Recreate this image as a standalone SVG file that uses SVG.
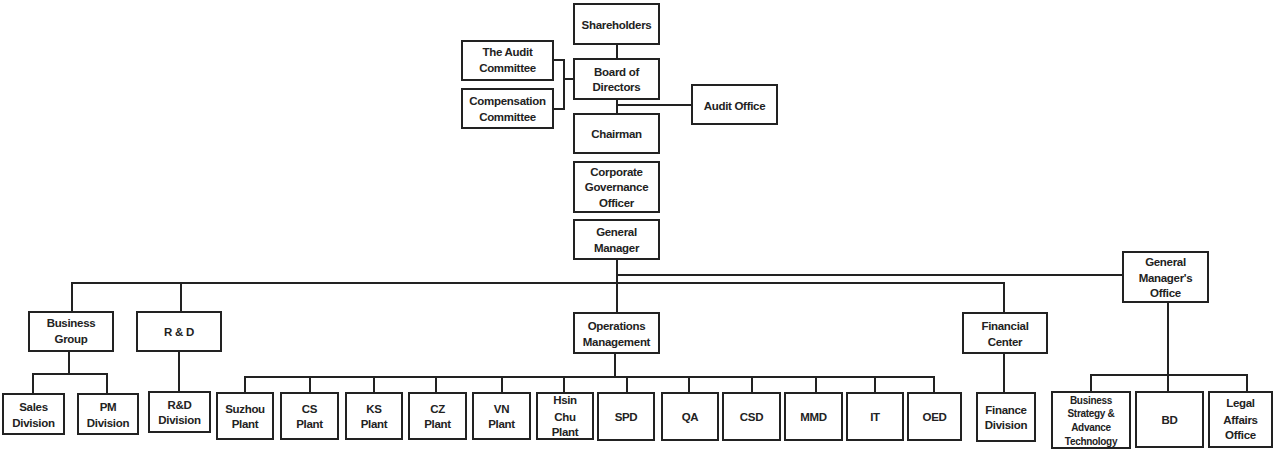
<svg xmlns="http://www.w3.org/2000/svg" width="1274" height="450" viewBox="0 0 1274 450">
<style>
rect{fill:#fff;stroke:#222;stroke-width:2}
text{font-family:"Liberation Sans",Arial,sans-serif;font-weight:bold;font-size:11.5px;fill:#222;text-anchor:middle;dominant-baseline:central;letter-spacing:-0.3px}
.s{font-size:10px}
#connectors path{fill:none;stroke:#222;stroke-width:2}
</style>
<rect x="0" y="0" width="1274" height="450" style="fill:#fff;stroke:none"/>
<g id="connectors">
<path d="M617 44V59M553 60H564V109H553M564 79H574M617 99V114M617 105H692"/>
<path d="M617 259V313M617 275H1123M72 312V283H1004V313M181 283V312"/>
<path d="M69 351V374M33 394V374H107V394M179 351V392"/>
<path d="M615 353V377M245 393V377H935M310 377V393M374 377V393M436 377V393M502 377V393M564 377V393M627 377V393M689 377V393M752 377V393M816 377V393M875 377V393M934 377V393"/>
<path d="M1004 353V393M1168 302V392M1091 392V375H1247V392"/>
</g>
<g id="shareholders"><rect x="574" y="4" width="85" height="40"/><text x="616.5" y="25">Shareholders</text></g>
<g id="audit-committee"><rect x="462" y="41" width="91" height="39"/><text x="507.5" y="52">The Audit</text><text x="507.5" y="68">Committee</text></g>
<g id="board"><rect x="574" y="59" width="85" height="40"/><text x="616.5" y="72">Board of</text><text x="616.5" y="87">Directors</text></g>
<g id="compensation"><rect x="462" y="89" width="91" height="39"/><text x="507.5" y="101">Compensation</text><text x="507.5" y="117">Committee</text></g>
<g id="audit-office"><rect x="692" y="85" width="85" height="39"/><text x="734.5" y="106">Audit Office</text></g>
<g id="chairman"><rect x="574" y="114" width="85" height="39"/><text x="616.5" y="134">Chairman</text></g>
<g id="cgo"><rect x="574" y="162" width="85" height="50"/><text x="616.5" y="172">Corporate</text><text x="616.5" y="187">Governance</text><text x="616.5" y="203">Officer</text></g>
<g id="gm"><rect x="574" y="220" width="85" height="39"/><text x="616.5" y="232">General</text><text x="616.5" y="248">Manager</text></g>
<g id="gmo"><rect x="1123" y="252" width="85" height="50"/><text x="1165.5" y="262">General</text><text x="1165.5" y="278">Manager's</text><text x="1165.5" y="293">Office</text></g>
<g id="business-group"><rect x="29" y="312" width="84" height="39"/><text x="71" y="323">Business</text><text x="71" y="339">Group</text></g>
<g id="rnd"><rect x="137" y="312" width="84" height="39"/><text x="179" y="332">R &amp; D</text></g>
<g id="operations"><rect x="574" y="313" width="85" height="40"/><text x="616.5" y="326">Operations</text><text x="616.5" y="342">Management</text></g>
<g id="financial-center"><rect x="963" y="313" width="84" height="40"/><text x="1005" y="326">Financial</text><text x="1005" y="342">Center</text></g>
<g id="sales"><rect x="3" y="394" width="61" height="40"/><text x="33.5" y="407">Sales</text><text x="33.5" y="423">Division</text></g>
<g id="pm"><rect x="78" y="394" width="60" height="40"/><text x="108" y="407">PM</text><text x="108" y="423">Division</text></g>
<g id="rnd-division"><rect x="149" y="392" width="61" height="40"/><text x="179.5" y="405">R&amp;D</text><text x="179.5" y="420">Division</text></g>
<g id="suzhou"><rect x="217" y="393" width="56" height="46"/><text x="245" y="409">Suzhou</text><text x="245" y="424">Plant</text></g>
<g id="cs"><rect x="281" y="393" width="57" height="46"/><text x="309.5" y="409">CS</text><text x="309.5" y="424">Plant</text></g>
<g id="ks"><rect x="346" y="393" width="56" height="46"/><text x="374" y="409">KS</text><text x="374" y="424">Plant</text></g>
<g id="cz"><rect x="409" y="393" width="57" height="46"/><text x="437.5" y="409">CZ</text><text x="437.5" y="424">Plant</text></g>
<g id="vn"><rect x="473" y="393" width="57" height="46"/><text x="501.5" y="409">VN</text><text x="501.5" y="424">Plant</text></g>
<g id="hsinchu"><rect x="537" y="393" width="56" height="46"/><text x="565" y="400">Hsin</text><text x="565" y="417">Chu</text><text x="565" y="432">Plant</text></g>
<g id="spd"><rect x="598" y="393" width="56" height="47"/><text x="626" y="417">SPD</text></g>
<g id="qa"><rect x="662" y="393" width="56" height="47"/><text x="690" y="417">QA</text></g>
<g id="csd"><rect x="723" y="393" width="57" height="47"/><text x="751.5" y="417">CSD</text></g>
<g id="mmd"><rect x="785" y="393" width="57" height="47"/><text x="813.5" y="417">MMD</text></g>
<g id="it"><rect x="847" y="393" width="56" height="47"/><text x="875" y="417">IT</text></g>
<g id="oed"><rect x="908" y="393" width="53" height="47"/><text x="934.5" y="417">OED</text></g>
<g id="finance-division"><rect x="977" y="393" width="58" height="48"/><text x="1006" y="410">Finance</text><text x="1006" y="425">Division</text></g>
<g id="bsat"><rect x="1052" y="392" width="78" height="56"/><text class="s" x="1091" y="400">Business</text><text class="s" x="1091" y="413">Strategy &amp;</text><text class="s" x="1091" y="427">Advance</text><text class="s" x="1091" y="441">Technology</text></g>
<g id="bd"><rect x="1136" y="392" width="67" height="55"/><text x="1169.5" y="420">BD</text></g>
<g id="legal"><rect x="1209" y="392" width="63" height="55"/><text x="1240.5" y="403">Legal</text><text x="1240.5" y="420">Affairs</text><text x="1240.5" y="435">Office</text></g>
</svg>
